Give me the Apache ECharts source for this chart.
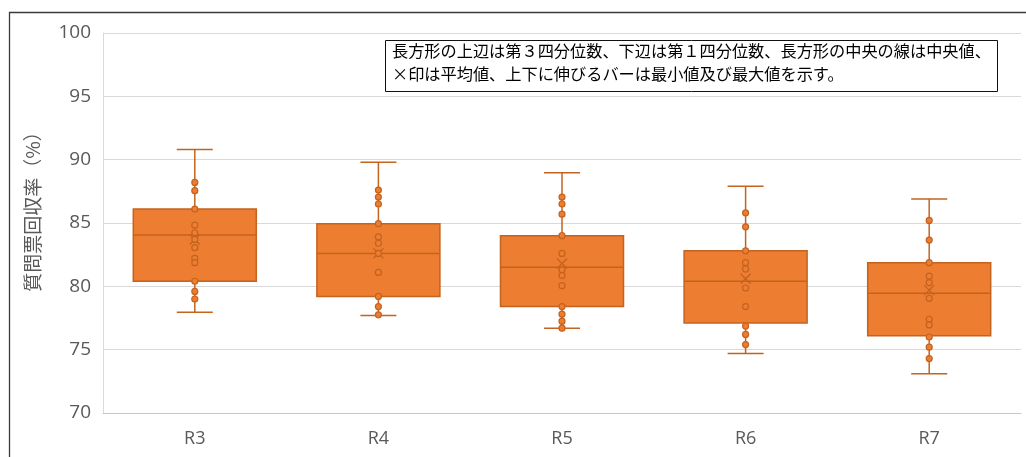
<!DOCTYPE html>
<html><head><meta charset="utf-8">
<script src="https://cdn.jsdelivr.net/npm/echarts@6/dist/echarts.min.js"></script>
<style>html,body{margin:0;padding:0;background:#fff}#c{width:1026px;height:457px}</style>
</head><body><div id="c"></div>
<script>
const categories = ['R3','R4','R5','R6','R7'];
const minV   = [77.95, 77.7, 76.7, 74.7, 73.1];
const q1V    = [80.4, 79.2, 78.4, 77.1, 76.1];
const medV   = [84.05, 82.6, 81.5, 80.4, 79.45];
const q3V    = [86.1, 84.95, 84.0, 82.8, 81.87];
const maxV   = [90.8, 89.8, 88.97, 87.9, 86.9];
const meanV  = [83.7, 82.6, 81.8, 80.6, 79.7];
const ptsR3 = [88.2, 87.55, 86.1, 84.83, 84.23, 83.7, 83.05, 82.2, 81.87, 80.4, 79.6, 79.0];
const ptsR4 = [87.6, 87.05, 86.5, 84.95, 83.9, 83.4, 82.6, 81.1, 79.2, 78.4, 77.75];
const ptsR5 = [87.05, 86.5, 85.7, 84.0, 82.6, 81.3, 80.85, 80.05, 78.4, 77.8, 77.25, 76.7];
const ptsR6 = [85.8, 84.7, 82.8, 81.87, 81.37, 79.87, 78.4, 76.87, 76.2, 75.4];
const ptsR7 = [85.2, 83.65, 81.87, 80.8, 80.3, 79.05, 77.4, 76.95, 76.0, 75.2, 74.3];
const yTicks = [70, 75, 80, 85, 90, 95, 100];
const axisTitle = '質問票回収率（%）';
const noteLine1 = '長方形の上辺は第３四分位数、下辺は第１四分位数、長方形の中央の線は中央値、';
const noteLine2 = '×印は平均値、上下に伸びるバーは最小値及び最大値を示す。';

const allPts = [ptsR3, ptsR4, ptsR5, ptsR6, ptsR7];
const scatterData = [];
allPts.forEach((arr, i) => arr.forEach(v => scatterData.push([i, v])));
const boxData = categories.map((c, i) => [i, minV[i], q1V[i], medV[i], q3V[i], maxV[i], meanV[i]]);

const ORANGE = '#ED7D31';
const DARK = '#C4631F';

const chart = echarts.init(document.getElementById('c'));
chart.setOption({
  animation: false,
  textStyle: { fontFamily: 'Noto Sans CJK JP, Noto Sans, sans-serif' },
  grid: { left: 103, right: 5, top: 33, bottom: 44 },
  xAxis: {
    type: 'category', data: categories, boundaryGap: true,
    axisLine: { show: true, lineStyle: { color: '#c8c8c8', width: 1 } },
    axisTick: { show: false },
    axisLabel: { color: '#595959', fontSize: 18, margin: 17, fontFamily: 'Open Sans, Noto Sans, sans-serif' },
    splitLine: { show: false }
  },
  yAxis: {
    type: 'value', min: yTicks[0], max: yTicks[yTicks.length - 1], interval: 5,
    name: axisTitle, nameLocation: 'middle', nameGap: 61, nameRotate: 90,
    nameTextStyle: { color: '#595959', fontSize: 19, fontFamily: 'Noto Sans CJK JP', padding: [0, 0, 0, 32] },
    axisLine: { show: true, lineStyle: { color: '#d9d9d9', width: 1 } },
    axisTick: { show: false },
    axisLabel: { color: '#595959', fontSize: 19, margin: 12, fontFamily: 'Open Sans, Noto Sans, sans-serif' },
    splitLine: { show: true, lineStyle: { color: '#d9d9d9', width: 1 } }
  },
  series: [
    {
      type: 'custom',
      data: boxData,
      z: 2,
      renderItem: function (params, api) {
        const i = api.value(0);
        const band = api.size([1, 0])[0];
        const bw = band * 0.67;
        const cw = 36;
        const pMin = api.coord([i, api.value(1)]);
        const pQ1 = api.coord([i, api.value(2)]);
        const pMed = api.coord([i, api.value(3)]);
        const pQ3 = api.coord([i, api.value(4)]);
        const pMax = api.coord([i, api.value(5)]);
        const pMean = api.coord([i, api.value(6)]);
        const cx = pQ1[0];
        const ls = { stroke: DARK, lineWidth: 1.5 };
        const m = 5;
        return {
          type: 'group',
          children: [
            { type: 'line', shape: { x1: cx, y1: pQ3[1], x2: cx, y2: pMax[1] }, style: ls },
            { type: 'line', shape: { x1: cx - cw / 2, y1: pMax[1], x2: cx + cw / 2, y2: pMax[1] }, style: ls },
            { type: 'line', shape: { x1: cx, y1: pQ1[1], x2: cx, y2: pMin[1] }, style: ls },
            { type: 'line', shape: { x1: cx - cw / 2, y1: pMin[1], x2: cx + cw / 2, y2: pMin[1] }, style: ls },
            { type: 'rect', shape: { x: cx - bw / 2, y: pQ3[1], width: bw, height: pQ1[1] - pQ3[1] },
              style: { fill: ORANGE, stroke: DARK, lineWidth: 1.5 } },
            { type: 'line', shape: { x1: cx - bw / 2, y1: pMed[1], x2: cx + bw / 2, y2: pMed[1] }, style: { stroke: DARK, lineWidth: 1.5 } },
            { type: 'line', shape: { x1: pMean[0] - m, y1: pMean[1] - m, x2: pMean[0] + m, y2: pMean[1] + m }, style: { stroke: DARK, lineWidth: 1.3 }, z2: 20 },
            { type: 'line', shape: { x1: pMean[0] - m, y1: pMean[1] + m, x2: pMean[0] + m, y2: pMean[1] - m }, style: { stroke: DARK, lineWidth: 1.3 }, z2: 20 }
          ]
        };
      }
    },
    {
      type: 'scatter',
      data: scatterData,
      z: 3,
      symbol: 'circle',
      symbolSize: 6,
      itemStyle: { color: ORANGE, borderColor: DARK, borderWidth: 1.2, opacity: 1 }
    }
  ],
  graphic: [
    { type: 'rect', left: 7, top: 10, shape: { width: 1040, height: 470 }, style: { fill: 'none', stroke: '#3a3a3a', lineWidth: 1.3 }, z: 100 },
    { type: 'rect', left: 385, top: 40, shape: { width: 612, height: 51 }, style: { fill: '#fff', stroke: '#111', lineWidth: 1 }, z: 90 },
    { type: 'text', left: 392, top: 43, style: { text: noteLine1, fill: '#000', font: '16.2px "Noto Sans CJK JP"' }, z: 91 },
    { type: 'text', left: 392, top: 66, style: { text: noteLine2, fill: '#000', font: '16.2px "Noto Sans CJK JP"' }, z: 91 }
  ]
});
</script></body></html>
